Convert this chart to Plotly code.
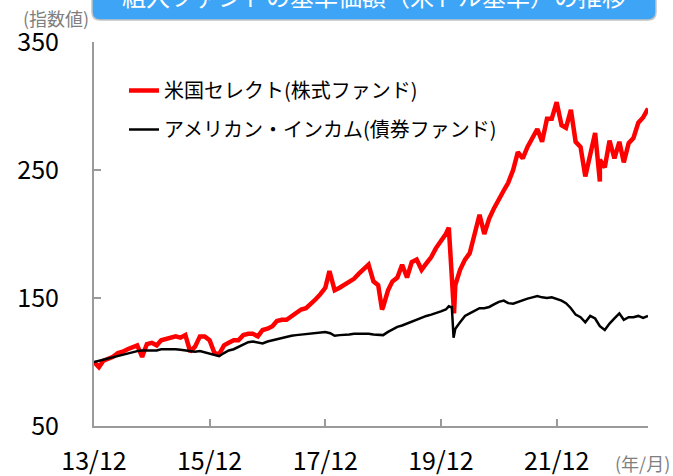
import pandas as pd
import plotly.graph_objects as go

# ---------------- data (month-end index values, Dec 2013 = 100) ----------------
start_month = "2013-12-31"
n_months = 116

red_monthly = (
    [100]
    + [96, 101, 103, 104, 107, 108, 110, 112, 113, 104, 114, 115]          # 2014
    + [113, 117, 118, 119, 120, 119, 121, 108, 112, 120, 120, 117]         # 2015
    + [107, 106, 113, 115, 117, 117, 121, 122, 122, 120, 125, 126]         # 2016
    + [128, 132, 133, 133, 136, 139, 141, 142, 145, 149, 153, 158]         # 2017
    + [169, 156, 158, 160, 163, 165, 169, 173, 176, 163, 160, 143]         # 2018
    + [156, 163, 166, 176, 166, 178, 180, 172, 177, 182, 189, 194]         # 2019
    + [200, 185, 160, 172, 180, 185, 200, 215, 200, 212, 220, 228]         # 2020
    + [234, 240, 250, 264, 259, 268, 276, 282, 272, 290, 290, 303]         # 2021
    + [285, 283, 297, 272, 268, 245, 262, 279, 258, 252, 273, 259]         # 2022
    + [272, 256, 271, 275, 287, 291, 298]                                  # 2023
)

black_monthly = (
    [100]
    + [101, 102, 103, 104, 105, 106, 107, 108, 108.5, 109, 109, 108.5]     # 2014
    + [109, 110, 110, 110.5, 110, 109.5, 109, 108, 108, 108.5, 107.5, 106]  # 2015
    + [105, 104.5, 107, 109, 110, 112, 114, 115.5, 116, 115.5, 114.5, 116]  # 2016
    + [117, 118, 119, 119.5, 120.5, 121, 121.5, 122, 122, 122.5, 123, 123.5]  # 2017
    + [122.5, 120.5, 121, 121, 121.5, 122, 122, 122.5, 122, 121.5, 121, 121]  # 2018
    + [123.5, 125.5, 127.5, 128.5, 130, 132, 133, 135, 136, 137, 138, 139.5]  # 2019
    + [141, 143, 126, 131, 136, 138, 140, 142, 142, 143, 145, 147]          # 2020
    + [148, 146, 145.5, 147, 148.5, 149.5, 150.5, 151.5, 150.5, 150, 150.5, 149.5]  # 2021
    + [148, 146, 142, 137, 135, 131, 136, 134, 128, 125, 130, 134]          # 2022
    + [138, 133, 135, 135, 136, 134.5, 136]                                 # 2023
)

# intra-month extremes (Jan/Dec 2018, COVID crash Mar 2020, Sep 2022)
red_extra_dates = ["2018-01-26", "2018-12-24", "2020-02-19", "2020-03-23", "2022-09-30"]
red_extra_vals = [171, 141, 205, 138, 241]
black_extra_dates = ["2020-02-19", "2020-03-09", "2020-03-20"]
black_extra_vals = [143.5, 143, 119]

series_names = ["米国セレクト(株式ファンド)", "アメリカン・インカム(債券ファンド)"]
series_colors = ["#ff0000", "#000000"]

x_tick_dates = ["2013-12-31", "2015-12-31", "2017-12-31", "2019-12-31", "2021-12-31"]
x_tick_labels = ["13/12", "15/12", "17/12", "19/12", "21/12"]
y_tick_vals = [50, 150, 250, 350]

title_text = "組入ファンドの基準価額（米ドル基準）の推移"
y_unit_text = "(指数値)"
x_unit_text = "(年/月)"

# ---------------- build ----------------
try:
    months = pd.date_range(start_month, periods=n_months, freq="ME")
except Exception:
    months = pd.date_range(start_month, periods=n_months, freq="M")


def merged(monthly, extra_dates, extra_vals):
    s = pd.Series(monthly, index=months)
    e = pd.Series(extra_vals, index=pd.to_datetime(extra_dates))
    s = pd.concat([s, e]).sort_index()
    return s.index, s.values


red_x, red_y = merged(red_monthly, red_extra_dates, red_extra_vals)
blk_x, blk_y = merged(black_monthly, black_extra_dates, black_extra_vals)

FONT = "Noto Sans CJK JP, Noto Sans, sans-serif"
AXIS_COLOR = "#9a9a9a"

fig = go.Figure()
fig.add_trace(go.Scatter(
    x=red_x, y=red_y, mode="lines", name=series_names[0],
    line=dict(color=series_colors[0], width=4.5), legendgroup="a",
))
fig.add_trace(go.Scatter(
    x=blk_x, y=blk_y, mode="lines", name=series_names[1],
    line=dict(color=series_colors[1], width=2.5), legendgroup="b",
))

W, H = 673, 476
L, R, T, B = 94, 25, 42, 50
pw, ph = W - L - R, H - T - B


def px_to_paper_x(px):
    return (px - L) / pw


def px_to_paper_y(py):
    return (H - B - py) / ph


fig.update_layout(
    width=W, height=H,
    margin=dict(l=L, r=R, t=T, b=B, pad=0, autoexpand=False),
    paper_bgcolor="white", plot_bgcolor="white",
    font=dict(family=FONT, size=20, color="#000000"),
    showlegend=True,
    legend=dict(
        x=px_to_paper_x(124), y=px_to_paper_y(71), xanchor="left", yanchor="top",
        bgcolor="rgba(0,0,0,0)", font=dict(size=20, family=FONT),
        tracegroupgap=10, traceorder="grouped",
    ),
    xaxis=dict(
        type="date",
        range=[months[0], months[-1]],
        tickvals=x_tick_dates, ticktext=x_tick_labels,
        ticks="inside", ticklen=7, tickwidth=1.5, tickcolor=AXIS_COLOR,
        showline=True, linecolor=AXIS_COLOR, linewidth=2,
        showgrid=False, zeroline=False, automargin=False,
        ticklabelstandoff=12,
        tickfont=dict(size=25, family=FONT),
    ),
    yaxis=dict(
        range=[50, 350],
        tickvals=y_tick_vals,
        ticks="inside", ticklen=7, tickwidth=1.5, tickcolor=AXIS_COLOR,
        showline=True, linecolor=AXIS_COLOR, linewidth=2,
        showgrid=False, zeroline=False, automargin=False,
        ticklabelstandoff=28,
        tickfont=dict(size=25, family=FONT),
    ),
)

# title banner (rounded bottom corners, partially cut at the top of the page)
x0, x1 = px_to_paper_x(92), px_to_paper_x(656)
y0, y1 = px_to_paper_y(20), px_to_paper_y(-12)
rx, ry = 8 / pw, 8 / ph
path = (f"M {x0},{y1} L {x0},{y0 + ry} Q {x0},{y0} {x0 + rx},{y0} "
        f"L {x1 - rx},{y0} Q {x1},{y0} {x1},{y0 + ry} L {x1},{y1} Z")
fig.add_shape(type="path", path=path, xref="paper", yref="paper",
              fillcolor="#3ea4f5", line=dict(color="#c4c4c4", width=1.5), layer="above")

fig.add_annotation(
    x=px_to_paper_x(374), y=px_to_paper_y(-5), xref="paper", yref="paper",
    text=title_text, showarrow=False, xanchor="center", yanchor="middle",
    font=dict(size=24, color="white", family=FONT),
)
fig.add_annotation(
    x=px_to_paper_x(56), y=px_to_paper_y(18), xref="paper", yref="paper",
    text=y_unit_text, showarrow=False, xanchor="center", yanchor="middle",
    font=dict(size=18, color="#7f7f7f", family=FONT),
)
fig.add_annotation(
    x=px_to_paper_x(642), y=px_to_paper_y(463), xref="paper", yref="paper",
    text=x_unit_text, showarrow=False, xanchor="center", yanchor="middle",
    font=dict(size=18, color="#7f7f7f", family=FONT),
)

fig.write_html(
    "out.html",
    config={"displayModeBar": False},
    post_script="document.body.style.margin='0px';document.body.style.overflow='hidden';",
)
